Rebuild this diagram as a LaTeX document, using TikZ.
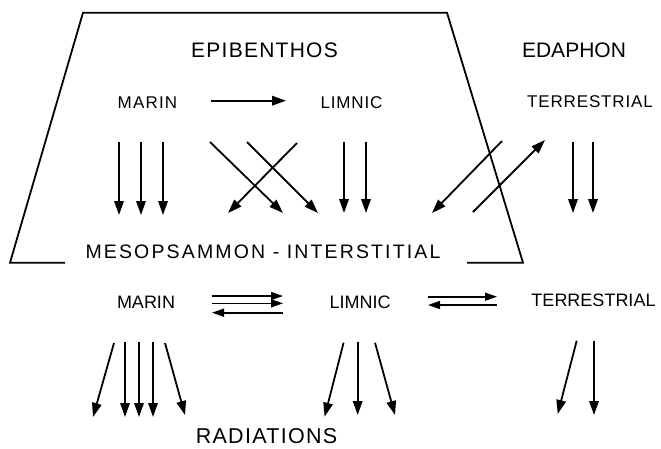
\documentclass[tikz,border=0pt]{standalone}
\usepackage{fontspec}
\setmainfont{Liberation Sans}
\usetikzlibrary{arrows.meta}
\tikzset{
  lbl/.style={inner sep=0pt, anchor=center},
  arr/.style={line width=1.8pt, -{Triangle[length=14pt,width=9.5pt]}},
  harr/.style={line width=1.6pt, -{Triangle[length=12pt,width=8pt]}},
  frame/.style={line width=1.8pt, line join=miter}
}
\begin{document}
\begin{tikzpicture}[x=1pt,y=-1pt]
\useasboundingbox (0,0) rectangle (661,448);
% trapezoid frame
\coordinate (f1) at (65,262.7);
\coordinate (f2) at (10,262.7);
\coordinate (f3) at (83,12.7);
\coordinate (f4) at (447,12.7);
\coordinate (f5) at (523,262.7);
\coordinate (f6) at (467,262.7);
\draw[frame] (f1) -- (f2) -- (f3) -- (f4) -- (f5) -- (f6);
% labels
\node[lbl, font=\fontsize{21}{21}\selectfont\addfontfeature{LetterSpace=6}] (epi) at (264.5,50.5) {EPIBENTHOS};
\node[lbl, font=\fontsize{21}{21}\selectfont] (eda) at (574,50.5) {EDAPHON};
\node[lbl, font=\fontsize{17}{17}\selectfont\addfontfeature{LetterSpace=7}] (marT) at (147.5,103) {MARIN};
\node[lbl, font=\fontsize{17}{17}\selectfont\addfontfeature{LetterSpace=5}] (limT) at (351.5,102.5) {LIMNIC};
\node[lbl, font=\fontsize{17}{17}\selectfont\addfontfeature{LetterSpace=5}] (terT) at (590,102) {TERRESTRIAL};
\node[lbl, font=\fontsize{19.5}{19.5}\selectfont\addfontfeature{LetterSpace=11}] (meso) at (263,252) {MESOPSAMMON - INTERSTITIAL};
\node[lbl, font=\fontsize{18}{18}\selectfont] (marB) at (146,302.5) {MARIN};
\node[lbl, font=\fontsize{18}{18}\selectfont] (limB) at (360,302.5) {LIMNIC};
\node[lbl, font=\fontsize{18}{18}\selectfont] (terB) at (593.5,300.5) {TERRESTRIAL};
\node[lbl, font=\fontsize{21.5}{21.5}\selectfont\addfontfeature{LetterSpace=6}] (rad) at (266.5,436.5) {RADIATIONS};
% vertical / diagonal arrows
\foreach \n/\xa/\ya/\xb/\yb in {
  t1/211/100.7/286/100.7,
  a1/119/142/119/215, a2/141/142/141/215, a3/163/142/163/215,
  c1/210/142/283/213, c2/247/142/318/213, c3/297/143/228/213,
  l1/344/142/344/213, l2/366/142/366/213,
  d1/502/141/432/213, d2/473/212/545/140,
  e1/573/142/573/213, e2/593/142/593/213,
  r1/114/343/93/417, r2/125/342/125/417, r3/139/342/139/417, r4/153/342/153/417, r5/165/343/185/415,
  r6/343.6/342.7/324.6/416.7, r7/357.7/341.7/357.7/415, r8/375/342.7/395/415,
  r9/576.7/340.7/557.7/414, r10/594/340.7/594/415}
{
  \coordinate (\n s) at (\xa,\ya);
  \coordinate (\n e) at (\xb,\yb);
  \draw[arr] (\n s) -- (\n e);
}
% horizontal exchange arrows
\foreach \n/\xa/\ya/\xb/\yb in {
  h1/212/296/283/296, h2/212/303.3/283/303.3, h3/283/312.7/212/312.7,
  h4/428/296.7/497/296.7, h5/497/305/428/305}
{
  \coordinate (\n s) at (\xa,\ya);
  \coordinate (\n e) at (\xb,\yb);
  \draw[harr] (\n s) -- (\n e);
}
\end{tikzpicture}
\end{document}
